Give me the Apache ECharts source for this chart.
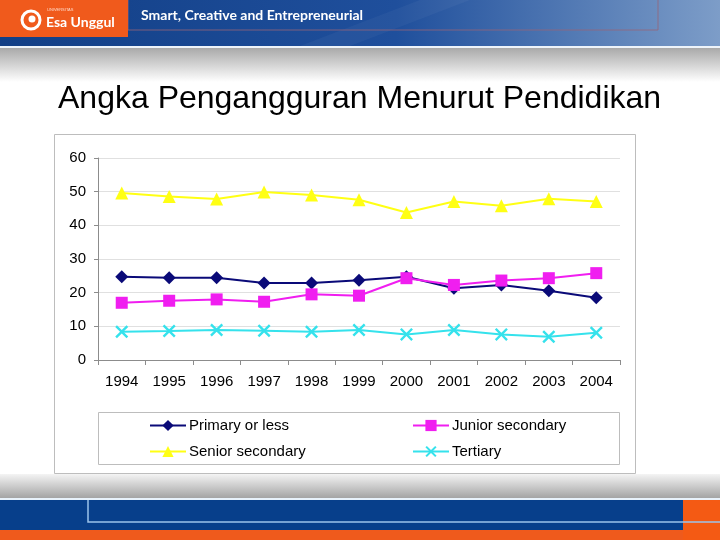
<!DOCTYPE html>
<html>
<head>
<meta charset="utf-8">
<title>Angka Pengangguran Menurut Pendidikan</title>
<script src="https://cdn.jsdelivr.net/npm/echarts@6/dist/echarts.min.js"></script>
<style>
    html, body { margin: 0; padding: 0; background: #fff; }
    #main { width: 720px; height: 540px; }
</style>
</head>
<body>
<div id="main"></div>
<script>
// --------------------------------------------------------------------------------------------------------------------
var years = ['1994', '1995', '1996', '1997', '1998', '1999', '2000', '2001', '2002', '2003', '2004'];
var primaryOrLess = [24.7, 24.4, 24.4, 22.9, 22.9, 23.7, 24.7, 21.3, 22.3, 20.6, 18.5];
var juniorSecondary = [17.0, 17.6, 18.0, 17.3, 19.5, 19.1, 24.3, 22.3, 23.6, 24.3, 25.8];
var seniorSecondary = [49.6, 48.6, 47.8, 49.9, 49.0, 47.6, 43.8, 47.1, 45.8, 47.9, 47.1];
var tertiary = [8.4, 8.6, 8.9, 8.7, 8.4, 8.9, 7.6, 8.9, 7.6, 6.9, 8.1];
// --------------------------------------------------------------------------------------------------------------------
var FONT = '"Liberation Sans", Arial, sans-serif';
var xMark = 'path://M0,1.3 L1.3,0 L5,3.7 L8.7,0 L10,1.3 L6.3,5 L10,8.7 L8.7,10 L5,6.3 L1.3,10 L0,8.7 L3.7,5 Z';

function makeSeries(name, data, color, symbol, size) {
    return {
        name: name,
        type: 'line',
        data: data,
        symbol: symbol,
        symbolSize: size,
        lineStyle: { color: color, width: 2 },
        itemStyle: { color: color },
        emphasis: { disabled: true },
        animation: false
    };
}

// slide decoration (header / footer / chart frame)
function slideGraphics() {
    return [
        // header
        { type: 'rect', z: -20, shape: { x: 0, y: 0, width: 720, height: 46 },
          style: { fill: new echarts.graphic.LinearGradient(0, 0, 1, 0, [
              { offset: 0, color: '#123f86' }, { offset: 0.55, color: '#1f4f9c' }, { offset: 1, color: '#7d9dc8' }]) } },
        { type: 'polygon', z: -19, shape: { points: [[300, 46], [420, 0], [470, 0], [350, 46]] },
          style: { fill: 'rgba(255,255,255,0.04)' } },
        { type: 'rect', z: -18, shape: { x: 128, y: -2, width: 530, height: 32 },
          style: { fill: 'none', stroke: 'rgba(150,100,120,0.8)', lineWidth: 1 } },
        { type: 'rect', z: -17, shape: { x: 0, y: 0, width: 128, height: 37 }, style: { fill: '#f05a1c' } },
        { type: 'rect', z: -20, shape: { x: 0, y: 46, width: 720, height: 2 }, style: { fill: '#eef4fa' } },
        { type: 'rect', z: -20, shape: { x: 0, y: 48, width: 720, height: 34 },
          style: { fill: new echarts.graphic.LinearGradient(0, 0, 0, 1, [
              { offset: 0, color: '#a9a9a9' }, { offset: 1, color: '#ffffff' }]) } },
        // logo
        { type: 'circle', z: -16, shape: { cx: 31, cy: 20, r: 9 }, style: { fill: 'none', stroke: '#fff', lineWidth: 3 } },
        { type: 'circle', z: -16, shape: { cx: 32, cy: 19, r: 3.5 }, style: { fill: '#fff' } },
        { type: 'text', z: -16, style: { x: 47, y: 10, text: 'UNIVERSITAS', fill: '#ffd9c8', font: '4px sans-serif', textVerticalAlign: 'middle' } },
        { type: 'text', z: -16, style: { x: 46, y: 22, text: 'Esa Unggul', fill: '#fff',
          font: 'bold 14px Lato, sans-serif', textVerticalAlign: 'middle' } },
        { type: 'text', z: -16, style: { x: 141, y: 15, text: 'Smart, Creative and Entrepreneurial', fill: '#fff',
          font: 'bold 14px Lato, sans-serif', textVerticalAlign: 'middle' } },
        // footer
        { type: 'rect', z: -20, shape: { x: 0, y: 474, width: 720, height: 24 },
          style: { fill: new echarts.graphic.LinearGradient(0, 0, 0, 1, [
              { offset: 0, color: '#f4f4f4' }, { offset: 1, color: '#a4a4a4' }]) } },
        { type: 'rect', z: -20, shape: { x: 0, y: 498, width: 720, height: 2 }, style: { fill: '#e8f2fb' } },
        { type: 'rect', z: -20, shape: { x: 0, y: 500, width: 720, height: 30 }, style: { fill: '#073f8b' } },
        { type: 'rect', z: -19, shape: { x: 0, y: 530, width: 720, height: 10 }, style: { fill: '#ef5a1c' } },
        { type: 'rect', z: -19, shape: { x: 683, y: 500, width: 37, height: 40 }, style: { fill: '#f45a14' } },
        { type: 'polyline', z: -18, shape: { points: [[88, 500], [88, 522], [720, 522]] },
          style: { fill: 'none', stroke: '#9cc4ec', lineWidth: 1.5 } },
        // chart frame and legend box
        { type: 'rect', z: -10, shape: { x: 54.5, y: 134.5, width: 581, height: 339 },
          style: { fill: '#fff', stroke: '#bdbdbd', lineWidth: 1 } },
        { type: 'rect', z: -9, shape: { x: 98.5, y: 412.5, width: 521, height: 52 },
          style: { fill: '#fff', stroke: '#bdbdbd', lineWidth: 1 } }
    ];
}

var chart = echarts.init(document.getElementById('main'));
chart.setOption({
    backgroundColor: '#fff',
    animation: false,
    title: {
        text: 'Angka Pengangguran Menurut Pendidikan',
        left: 53,
        top: 78,
        textStyle: { fontFamily: FONT, fontSize: 32, fontWeight: 'normal', color: '#000' }
    },
    graphic: slideGraphics(),
    legend: [{
        left: 149, top: 418, orient: 'vertical', padding: 0, itemGap: 11,
        itemWidth: 36, itemHeight: 14,
        data: ['Primary or less', 'Senior secondary'],
        textStyle: { fontFamily: FONT, fontSize: 15, color: '#000', padding: [0, 0, 0, -2] }
    }, {
        left: 412, top: 418, orient: 'vertical', padding: 0, itemGap: 11,
        itemWidth: 36, itemHeight: 14,
        data: ['Junior secondary', 'Tertiary'],
        textStyle: { fontFamily: FONT, fontSize: 15, color: '#000', padding: [0, 0, 0, -2] }
    }],
    grid: { left: 98, right: 100, top: 158, bottom: 180 },
    xAxis: {
        type: 'category',
        data: years,
        boundaryGap: true,
        axisLine: { lineStyle: { color: '#8c8c8c' } },
        axisTick: { show: true, length: 5, lineStyle: { color: '#8c8c8c' } },
        axisLabel: { fontFamily: FONT, fontSize: 15, color: '#000', margin: 14 }
    },
    yAxis: {
        type: 'value',
        min: 0, max: 60, interval: 10,
        axisLine: { show: true, lineStyle: { color: '#8c8c8c' } },
        axisTick: { show: true, length: 4, lineStyle: { color: '#8c8c8c' } },
        splitLine: { lineStyle: { color: '#e0e0e0' } },
        axisLabel: { fontFamily: FONT, fontSize: 15, color: '#000', margin: 12 }
    },
    series: [
        makeSeries('Primary or less', primaryOrLess, '#0a0a78', 'diamond', 13),
        makeSeries('Junior secondary', juniorSecondary, '#f01ef0', 'rect', 12),
        makeSeries('Senior secondary', seniorSecondary, '#ffff14', 'triangle', 13),
        makeSeries('Tertiary', tertiary, '#35e2ec', xMark, 13)
    ]
});
</script>
</body>
</html>
